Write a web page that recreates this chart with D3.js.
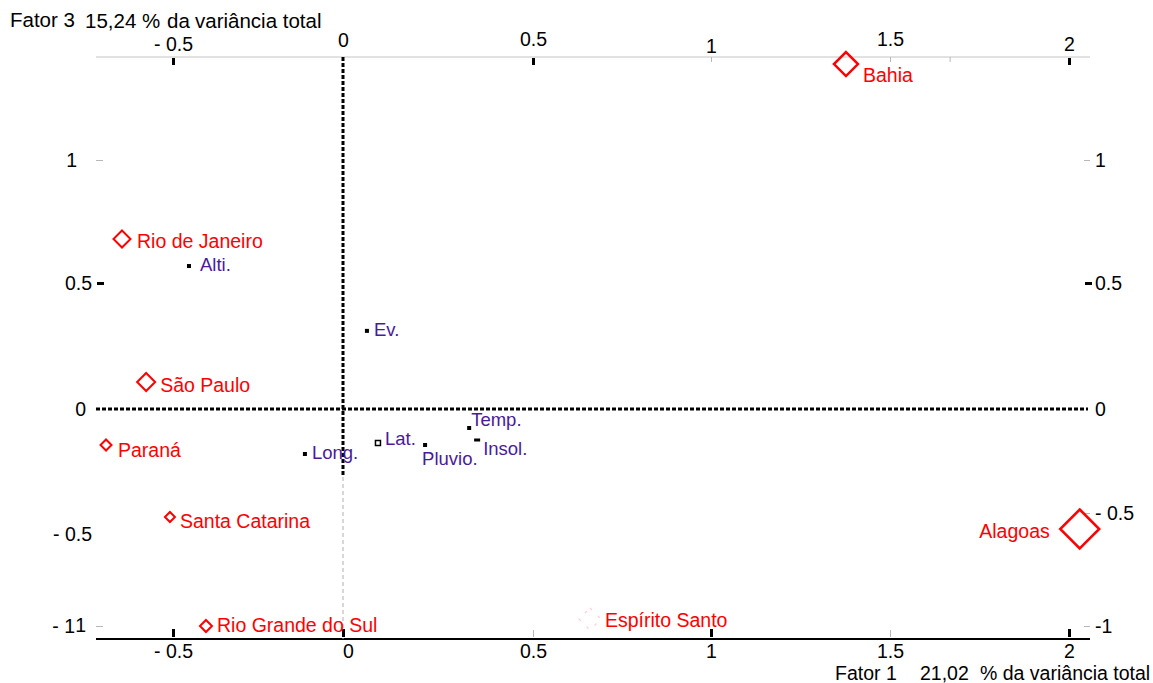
<!DOCTYPE html>
<html>
<head>
<meta charset="utf-8">
<script src="https://cdn.jsdelivr.net/npm/d3@7"></script>
<style>
  body { margin: 0; background: #fff; }
  svg { font-family: "Liberation Sans", Arial, sans-serif; display: block; }
</style>
</head>
<body>
<svg id="chart" width="1153" height="683"></svg>
<script>
// States: scores on Fator 1 (x) and Fator 3 (y)
const states = ["Bahia", "Rio de Janeiro", "São Paulo", "Paraná", "Santa Catarina",
                "Rio Grande do Sul", "Espírito Santo", "Alagoas"];
const stateF1 = [1.377, -0.65, -0.579, -0.697, -0.509, -0.403, 0.66, 2.03];
const stateF3 = [1.39, 0.679, 0.107, -0.144, -0.432, -1.0, -0.962, -0.48];

// Environmental variables projected on the same plane
const variables = ["Alti.", "Ev.", "Temp.", "Insol.", "Pluvio.", "Lat.", "Long."];
const varF1 = [-0.453, 0.063, 0.332, 0.353, 0.216, 0.092, -0.112];
const varF3 = [0.569, 0.31, -0.076, -0.124, -0.144, -0.136, -0.18];

// Axis ticks and their labels
const xTicks = [-0.5, 0, 0.5, 1, 1.5, 2];
const xTickLabels = ["- 0.5", "0", "0.5", "1", "1.5", "2"];
const yTicks = [-1, -0.5, 0, 0.5, 1];
const yTickLabelsLeft = ["- 1", "- 0.5", "0", "0.5", "1"];
const yTickLabelsRight = ["-1", "- 0.5", "0", "0.5", "1"];

const xTitle = ["Fator 1", "21,02", "% da variância total"];
const yTitle = ["Fator 3", "15,24 %", "da", "variância total"];

// ---- drawing ----
(function draw() {
const svg = d3.select("#chart");
const RED = "#ff0000", PURPLE = "#4a1a9a";
const TICK_FONT = 19.5;

// The plotting frame is stretched unevenly between ticks, so the scales are piecewise.
const x = d3.scaleLinear().domain(xTicks).range([173, 343, 533, 711, 890, 1069]);
const yL = d3.scaleLinear().domain(yTicks).range([626, 534, 409, 283, 160]);
const yR = d3.scaleLinear().domain(yTicks).range([626, 513, 409, 283, 160]);

const fLeft = 96, fRight = 1090, fTop = 57, fBottom = 639;

// marker look
const markerR = {"Bahia": 12, "Rio de Janeiro": 8.5, "São Paulo": 9, "Paraná": 5.5,
  "Santa Catarina": 5, "Rio Grande do Sul": 6, "Espírito Santo": 11, "Alagoas": 19.5};
const stateLabel = {"Bahia": [17, 18, "start"], "Rio de Janeiro": [15, 9, "start"],
  "São Paulo": [14, 10, "start"], "Paraná": [12, 12, "start"], "Santa Catarina": [10, 11, "start"],
  "Rio Grande do Sul": [11, 6, "start"], "Espírito Santo": [15, 8, "start"], "Alagoas": [-30, 9, "end"]};
const varLabel = {"Alti.": [11, 5], "Ev.": [7, 5], "Temp.": [2, -2], "Insol.": [6, 15],
  "Pluvio.": [-3, 20], "Lat.": [7, 2], "Long.": [7, 5]};
// small vertical nudges of the top labels
const topLabelShift = new Map([[-0.5, 3], [0, -1], [0.5, -2], [1, 5], [1.5, -2], [2, 3]]);

// tick-mark appearance per axis
const tickStyle = {
  top:    {bold: [-0.5, 0.5, 2], thin: [1, 1.5]},
  bottom: {bold: [-0.5, 0, 1, 2], thin: [0.5, 1.5]},
  left:   {bold: [0.5], thin: [1, -1]},
  right:  {bold: [0.5], thin: [1, -0.5, -1]}
};

// frame lines
svg.append("line").attr("x1", fLeft).attr("x2", fRight).attr("y1", fTop).attr("y2", fTop)
  .attr("stroke", "#c4c4c4").attr("stroke-width", 1);
svg.append("line").attr("x1", fLeft).attr("x2", fRight).attr("y1", fBottom).attr("y2", fBottom)
  .attr("stroke", "#000").attr("stroke-width", 2);

// zero lines
svg.append("line").attr("x1", fLeft).attr("x2", 1088).attr("y1", yL(0)).attr("y2", yL(0))
  .attr("stroke", "#000").attr("stroke-width", 3).attr("stroke-dasharray", "4,2");
svg.append("line").attr("x1", x(0)).attr("x2", x(0)).attr("y1", fTop).attr("y2", 477)
  .attr("stroke", "#000").attr("stroke-width", 3).attr("stroke-dasharray", "4,2");
svg.append("line").attr("x1", x(0)).attr("x2", x(0)).attr("y1", 477).attr("y2", fBottom)
  .attr("stroke", "#b0b0b0").attr("stroke-width", 1).attr("stroke-dasharray", "4,3");

function fmt(vals, labels) { return d => labels[vals.indexOf(d)]; }

function styleTicks(g, which) {
  const st = tickStyle[which];
  g.selectAll(".tick").each(function(d) {
    const t = d3.select(this);
    const bold = st.bold.includes(d), thin = st.thin.includes(d);
    if (which === "top") {
      if (bold) t.append("rect").attr("x", -1.5).attr("y", 1).attr("width", 3).attr("height", 7).attr("fill", "#000");
      if (thin) t.append("line").attr("y1", 0).attr("y2", 5).attr("stroke", "#b8b8b8");
    } else if (which === "bottom") {
      if (bold) t.append("rect").attr("x", -1.5).attr("y", -10).attr("width", 3).attr("height", 8).attr("fill", "#000");
      if (thin) t.append("line").attr("y1", -9).attr("y2", -2).attr("stroke", "#b8b8b8");
    } else if (which === "left") {
      if (bold) t.append("rect").attr("x", 1).attr("y", -1.5).attr("width", 7).attr("height", 3).attr("fill", "#000");
      if (thin) t.append("line").attr("x1", 0).attr("x2", 7).attr("stroke", "#b8b8b8");
    } else {
      if (bold) t.append("rect").attr("x", -5).attr("y", -1.5).attr("width", 7).attr("height", 3).attr("fill", "#000");
      if (thin) t.append("line").attr("x1", -6).attr("x2", 0).attr("stroke", "#b8b8b8");
    }
  });
}

function cleanAxis(g) {
  g.select(".domain").remove();
  g.selectAll(".tick line").remove();
  g.selectAll("text").attr("font-size", TICK_FONT).attr("fill", "#000")
    .attr("font-family", "'Liberation Sans', Arial, sans-serif");
}

// top axis
const gTop = svg.append("g").attr("transform", `translate(0,${fTop})`)
  .call(d3.axisTop(x).tickValues(xTicks).tickFormat(fmt(xTicks, xTickLabels)).tickSize(0).tickPadding(9))
  .call(cleanAxis);
styleTicks(gTop, "top");
gTop.selectAll(".tick text").attr("dy", d => topLabelShift.get(d) || 0);
// a stray minor mark on the top frame
svg.append("line").attr("x1", x(1.668)).attr("x2", x(1.668)).attr("y1", fTop).attr("y2", fTop + 5)
  .attr("stroke", "#b8b8b8");

// bottom axis
const gBottom = svg.append("g").attr("transform", `translate(0,${fBottom})`)
  .call(d3.axisBottom(x).tickValues(xTicks).tickFormat(fmt(xTicks, xTickLabels)).tickSize(0).tickPadding(5))
  .call(cleanAxis);
styleTicks(gBottom, "bottom");
gBottom.selectAll(".tick text").filter(d => d === 0).attr("dx", 5);

// left axis
const gLeft = svg.append("g").attr("transform", `translate(${fLeft},0)`)
  .call(d3.axisLeft(yL).tickValues(yTicks).tickFormat(fmt(yTicks, yTickLabelsLeft)).tickSize(0).tickPadding(4))
  .call(cleanAxis);
styleTicks(gLeft, "left");
gLeft.selectAll(".tick text").filter(d => d === 1).attr("dx", -15);
gLeft.selectAll(".tick text").filter(d => d === 0).attr("dx", -6);
gLeft.selectAll(".tick text").filter(d => d === -1).attr("dx", -17);
// second, overlapping label at -1 on the left
gLeft.append("text").attr("x", -10).attr("y", yL(-1)).attr("dy", "0.32em")
  .attr("text-anchor", "end").attr("font-size", TICK_FONT).attr("fill", "#000").text("1");

// right axis
const gRight = svg.append("g").attr("transform", `translate(${fRight},0)`)
  .call(d3.axisRight(yR).tickValues(yTicks).tickFormat(fmt(yTicks, yTickLabelsRight)).tickSize(0).tickPadding(5))
  .call(cleanAxis);
styleTicks(gRight, "right");

// axis titles
const tTop = svg.append("text").attr("font-size", 20.5).attr("fill", "#000");
tTop.append("tspan").attr("x", 10).attr("y", 27).text(yTitle[0]);
tTop.append("tspan").attr("x", 85).attr("y", 28).text(yTitle[1]);
tTop.append("tspan").attr("x", 167).attr("y", 28).text(yTitle[2]);
tTop.append("tspan").attr("x", 195).attr("y", 28).text(yTitle[3]);

const tBot = svg.append("text").attr("font-size", 19.5).attr("fill", "#000");
tBot.append("tspan").attr("x", 835).attr("y", 680).text(xTitle[0]);
tBot.append("tspan").attr("x", 920).attr("y", 680).text(xTitle[1]);
tBot.append("tspan").attr("x", 980).attr("y", 680).text(xTitle[2]);

// variables: small black squares with purple labels
const vars = variables.map((name, i) => ({name, f1: varF1[i], f3: varF3[i]}));
const gv = svg.append("g").selectAll("g").data(vars).join("g")
  .attr("transform", d => `translate(${x(d.f1)},${yL(d.f3)})`);
gv.append("rect")
  .attr("x", d => d.name === "Lat." ? -2.5 : (d.name === "Insol." ? -3 : -2))
  .attr("y", d => d.name === "Lat." ? -2.5 : (d.name === "Insol." ? -1.5 : -2))
  .attr("width", d => d.name === "Lat." ? 5 : (d.name === "Insol." ? 6 : 4))
  .attr("height", d => d.name === "Lat." ? 5 : (d.name === "Insol." ? 3 : 4))
  .attr("fill", d => d.name === "Lat." ? "#fff" : "#000")
  .attr("stroke", d => d.name === "Lat." ? "#000" : "none")
  .attr("stroke-width", 1.5);
gv.append("text")
  .attr("x", d => varLabel[d.name][0]).attr("y", d => varLabel[d.name][1])
  .attr("font-size", 18.5).attr("fill", PURPLE).text(d => d.name);

// states: open red diamonds with red labels
const pts = states.map((name, i) => ({name, f1: stateF1[i], f3: stateF3[i]}));
const gs = svg.append("g").selectAll("g").data(pts).join("g")
  .attr("transform", d => `translate(${x(d.f1)},${yL(d.f3)})`);
gs.append("path")
  .attr("d", d => { const r = markerR[d.name]; return `M0,${-r}L${r},0L0,${r}L${-r},0Z`; })
  .attr("fill", "none")
  .attr("stroke", d => d.name === "Espírito Santo" ? "#ffd0d0" : RED)
  .attr("stroke-width", d => d.name === "Espírito Santo" ? 1.2 : (markerR[d.name] > 10 ? 2.5 : 2))
  .attr("stroke-dasharray", d => d.name === "Espírito Santo" ? "3,8" : null)
  .attr("stroke-linejoin", "miter");
gs.append("text")
  .attr("x", d => stateLabel[d.name][0]).attr("y", d => stateLabel[d.name][1])
  .attr("text-anchor", d => stateLabel[d.name][2])
  .attr("font-size", 19.5).attr("fill", RED).text(d => d.name);
})();
</script>
</body>
</html>
